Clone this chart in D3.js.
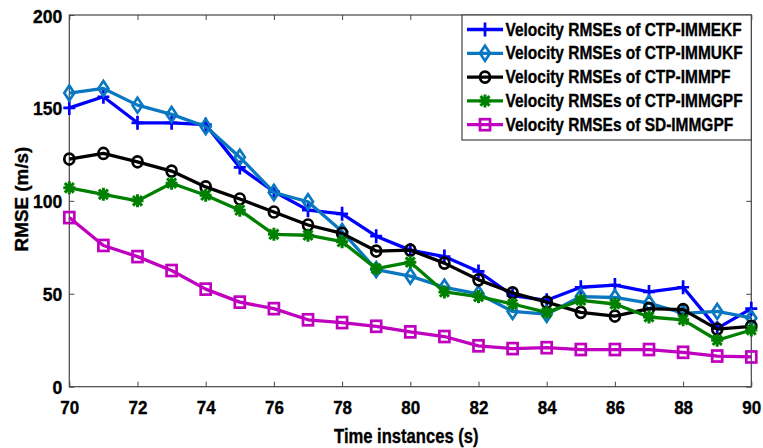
<!DOCTYPE html>
<html>
<head>
<meta charset="utf-8">
<script src="https://cdn.jsdelivr.net/npm/d3@7"></script>
<style>
  html, body { margin: 0; padding: 0; background: #fff; }
  svg { display: block; }
  text { font-family: Arial, "Liberation Sans", sans-serif; font-weight: bold; fill: #000; stroke: #000; stroke-width: 0.35px; }
</style>
</head>
<body>
<svg id="chart" width="763" height="448"></svg>
<script>
const times = [70,71,72,73,74,75,76,77,78,79,80,81,82,83,84,85,86,87,88,89,90];
const ekf = [150,156,142,142,141,118,105,95,93,81,73.5,70,62,49,46.5,53.5,54.7,51,53.5,31.4,42];
const ukf = [158,160.5,151.5,146.5,140,123.5,104.5,99.5,83.5,63,59.5,53.5,50,40.5,39,48.5,48,45,39.5,40.5,37];
const pf  = [122.5,125.5,121,116,107.5,101,94,87,82.5,73,73.5,66.5,57.5,50.5,45.5,40,38,42,41.5,31,32.5];
const gpf = [107,103.5,100,109.5,103,95,82,81.5,78,63.5,67,51,48.5,44.5,40,46.5,44.5,37.5,36,25,30.5];
const sd  = [91,76,70,62.5,52.5,45.5,42,36,34.5,32.5,29.5,27,22,20.5,21,20,20,20,18.5,16.5,16];
const seriesNames = ["Velocity RMSEs of CTP-IMMEKF","Velocity RMSEs of CTP-IMMUKF","Velocity RMSEs of CTP-IMMPF","Velocity RMSEs of CTP-IMMGPF","Velocity RMSEs of SD-IMMGPF"];
const xTicks = [70,72,74,76,78,80,82,84,86,88,90];
const yTicks = [0,50,100,150,200];
const xLabel = "Time instances (s)";
const yLabel = "RMSE (m/s)";

const series = [
  {name: seriesNames[0], values: ekf, color: "#0000ff", marker: "plus"},
  {name: seriesNames[1], values: ukf, color: "#0a78c0", marker: "diamond"},
  {name: seriesNames[2], values: pf,  color: "#000000", marker: "circle"},
  {name: seriesNames[3], values: gpf, color: "#008000", marker: "star"},
  {name: seriesNames[4], values: sd,  color: "#bf00bf", marker: "square"}
];

const L = 69.3, R = 751.3, T = 15, B = 386.7;
const x = d3.scaleLinear().domain([70, 90]).range([L, R]);
const y = d3.scaleLinear().domain([0, 200]).range([B, T]);
const svg = d3.select("#chart");
const axisColor = "#444";

// box
svg.append("rect").attr("x", L).attr("y", T).attr("width", R - L).attr("height", B - T)
  .attr("fill", "none").attr("stroke", axisColor).attr("stroke-width", 1.2);

// bottom axis
const gx = svg.append("g").attr("transform", `translate(0,${B})`)
  .call(d3.axisBottom(x).tickValues(xTicks).tickSize(-5).tickSizeOuter(0).tickFormat(d => d));
gx.select(".domain").remove();
gx.selectAll("line").attr("stroke", axisColor);
gx.selectAll("text").attr("y", null).attr("dy", null)
  .attr("transform", "translate(0,27) scale(0.92,1)")
  .style("font-size", "18.5px").attr("fill", "#000");

// top axis ticks
const gt = svg.append("g").attr("transform", `translate(0,${T})`)
  .call(d3.axisTop(x).tickValues(xTicks).tickSize(-5).tickSizeOuter(0).tickFormat(""));
gt.select(".domain").remove();
gt.selectAll("line").attr("stroke", axisColor);

// left axis
const gy = svg.append("g").attr("transform", `translate(${L},0)`)
  .call(d3.axisLeft(y).tickValues(yTicks).tickSize(-5).tickSizeOuter(0).tickFormat(d => d));
gy.select(".domain").remove();
gy.selectAll("line").attr("stroke", axisColor);
gy.selectAll("text").attr("x", null).attr("dy", null)
  .attr("transform", "translate(-7,7) scale(0.95,1)")
  .style("font-size", "18.5px").attr("text-anchor", "end").attr("fill", "#000");

// right axis ticks
const gr = svg.append("g").attr("transform", `translate(${R},0)`)
  .call(d3.axisRight(y).tickValues(yTicks).tickSize(-5).tickSizeOuter(0).tickFormat(""));
gr.select(".domain").remove();
gr.selectAll("line").attr("stroke", axisColor);

// axis titles
svg.append("text").attr("transform", `translate(${(L + R) / 2 - 4},443) scale(0.83,1)`)
  .attr("text-anchor", "middle").style("font-size", "20px").text(xLabel);
svg.append("text").attr("transform", `translate(28,199) rotate(-90) scale(1.02,1)`)
  .attr("text-anchor", "middle").style("font-size", "18.5px").text(yLabel);

function drawMarker(g, type, color) {
  const sw = 2.7;
  if (type === "plus") {
    g.append("path").attr("d", "M-6,0H6M0,-7V7").attr("stroke", color).attr("stroke-width", sw).attr("fill", "none");
  } else if (type === "diamond") {
    g.append("path").attr("d", "M0,-7.5L5,0L0,7.5L-5,0Z").attr("stroke", color).attr("stroke-width", sw).attr("fill", "none");
  } else if (type === "circle") {
    g.append("ellipse").attr("rx", 5).attr("ry", 5.5).attr("stroke", color).attr("stroke-width", sw).attr("fill", "none");
  } else if (type === "star") {
    g.append("path").attr("d", "M-6,0H6M0,-6.5V6.5M-4.5,-4.8L4.5,4.8M-4.5,4.8L4.5,-4.8").attr("stroke", color).attr("stroke-width", 3).attr("fill", "none");
  } else if (type === "square") {
    g.append("rect").attr("x", -5).attr("y", -5.5).attr("width", 10).attr("height", 11).attr("stroke", color).attr("stroke-width", sw).attr("fill", "none");
  }
}

const line = d3.line().x((d, i) => x(times[i])).y(d => y(d));
const plot = svg.append("g");
series.forEach(s => {
  const g = plot.append("g");
  g.append("path").attr("d", line(s.values)).attr("fill", "none")
    .attr("stroke", s.color).attr("stroke-width", 3.3).attr("stroke-linejoin", "round");
  s.values.forEach((v, i) => {
    const m = g.append("g").attr("transform", `translate(${x(times[i])},${y(v)})`);
    drawMarker(m, s.marker, s.color);
  });
});

// legend
const lg = svg.append("g");
lg.append("rect").attr("x", 462).attr("y", T).attr("width", R - 462).attr("height", 125)
  .attr("fill", "#fff").attr("stroke", axisColor).attr("stroke-width", 1.2);
series.forEach((s, i) => {
  const cy = 29.5 + i * 23.8;
  lg.append("line").attr("x1", 467).attr("x2", 503).attr("y1", cy).attr("y2", cy)
    .attr("stroke", s.color).attr("stroke-width", 3.3);
  const m = lg.append("g").attr("transform", `translate(485,${cy})`);
  drawMarker(m, s.marker, s.color);
  lg.append("text").attr("transform", `translate(505.5,${cy + 6}) scale(0.86,1)`)
    .style("font-size", "18px").text(s.name);
});
</script>
</body>
</html>
